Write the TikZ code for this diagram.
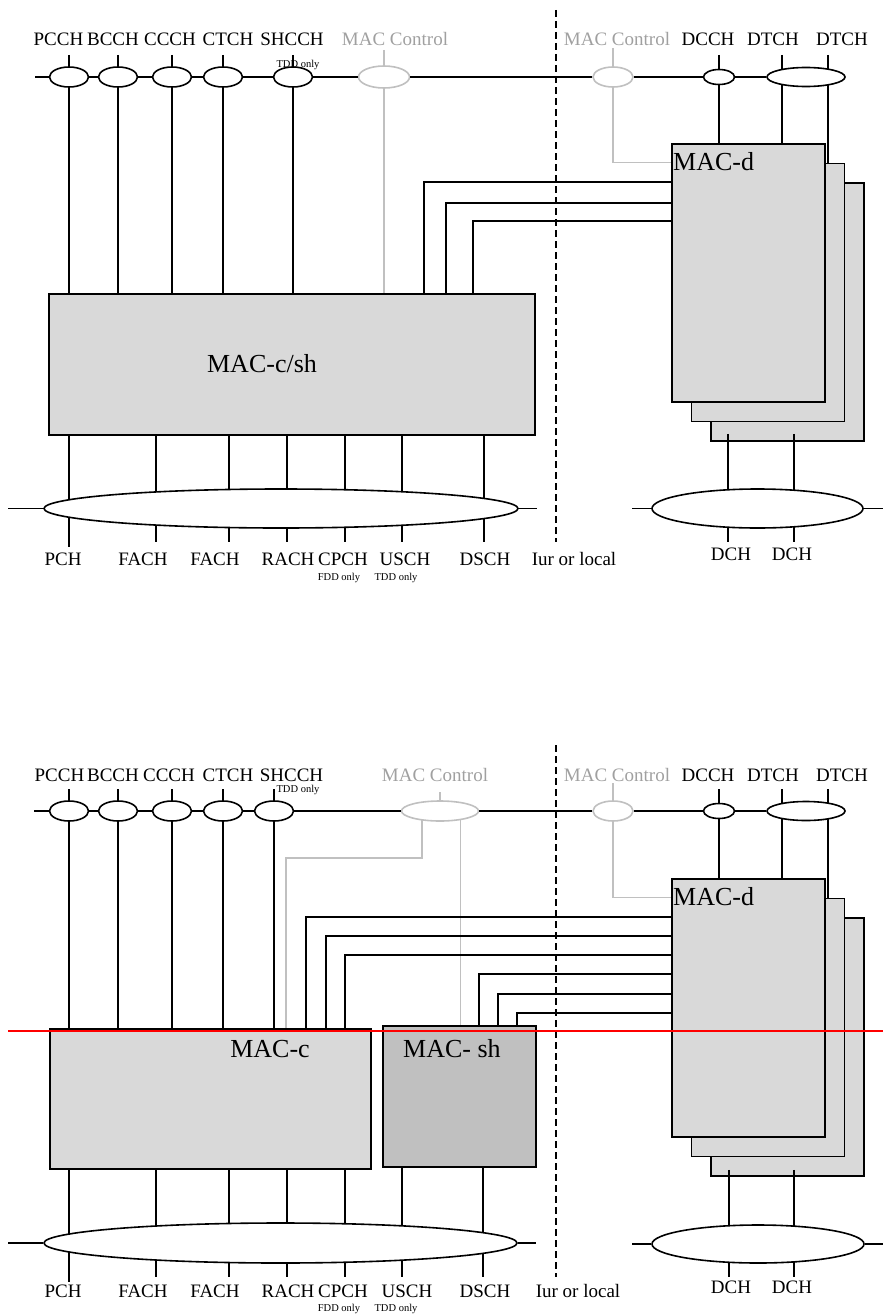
\documentclass[tikz,border=0pt]{standalone}
\usepackage{fontspec}
\setmainfont{Liberation Serif}
\usetikzlibrary{shapes.geometric, backgrounds}
\definecolor{box-gray}{HTML}{D9D9D9}
\definecolor{sh-gray}{HTML}{C0C0C0}
\definecolor{ctrl-gray}{HTML}{C0C0C0}
\definecolor{ctrl-text}{HTML}{A0A0A0}

\begin{document}
\begin{tikzpicture}[x=1pt, y=-1pt,
    chan/.style={draw, ellipse, fill=white, line width=1.6pt, inner sep=0pt,
                 minimum width=39pt, minimum height=20pt},
    ctrl/.style={chan, draw=ctrl-gray},
    macbox/.style={draw, line width=1.7pt, fill=box-gray, inner sep=0pt},
    lbl/.style={anchor=base, inner sep=0pt, font=\fontsize{19}{22}\selectfont},
    tiny/.style={inner sep=0pt, font=\fontsize{10.5}{12}\selectfont},
    big/.style={anchor=base, inner sep=0pt, font=\fontsize{26}{29}\selectfont},
    conn/.style={line width=1.4pt},
    gconn/.style={line width=1.4pt, draw=ctrl-gray},
    iur/.style={line width=1.5pt, dash pattern=on 7pt off 4pt}]
\useasboundingbox (0,0) rectangle (883,1314);

%%% upper picture: MAC-c/sh
\foreach \n/\x/\t in {pcch/58.5/PCCH, bcch/113/BCCH, ccch/170/CCCH, ctch/228/CTCH,
                      shcch/292/SHCCH, dcch/708/DCCH, dtcha/773/DTCH, dtchb/842/DTCH}
  \node[lbl] (l-\n) at (\x,46) {\t};
\node[lbl, text=ctrl-text] (l-ctrl) at (395,46) {MAC Control};
\node[lbl, text=ctrl-text] (l-ctrlr) at (617,46) {MAC Control};
\node[tiny] (l-tdd) at (298,65) {TDD only};

\foreach \n/\x in {pcch/69, bcch/118, ccch/172, ctch/223, shcch/293}
  \node[chan] (e-\n) at (\x,77) {};
\node[ctrl, minimum width=51pt, minimum height=22pt] (e-ctrl) at (384,77) {};
\node[ctrl, minimum width=40pt] (e-ctrlr) at (613,77) {};
\node[chan, minimum width=31pt, minimum height=15pt] (e-dcch) at (719,77) {};
\node[chan, minimum width=78pt, minimum height=19pt] (e-dtch) at (806,77) {};
\coordinate (lch) at (35,77);
\draw[conn] (lch) -- (e-pcch) -- (e-bcch) -- (e-ccch) -- (e-ctch) -- (e-shcch)
  -- (e-ctrl) -- (e-ctrlr) -- (e-dcch) -- (e-dtch);

\node[macbox, minimum width=486pt, minimum height=141pt] (csh) at (292,364.5) {};
\node[big] (t-csh) at (262,372) {MAC-c/sh};

\foreach \n/\d in {c/39, b/19.5, a/0}
  \node[macbox, minimum width=153pt, minimum height=258pt] (macd-\n) at ({748.5+\d},{273+\d}) {};
\node[big, anchor=base west] (t-macd) at (673,170) {MAC-d};

\begin{scope}[on background layer]
  \foreach \n in {pcch, bcch, ccch, ctch, shcch}
    \draw[conn] (e-\n |- 0,55) -- (e-\n |- csh.north);
  \draw[gconn] (e-ctrl |- 0,50) -- (e-ctrl |- csh.north);
  \draw[conn] (e-dcch |- 0,55) -- (e-dcch |- macd-a.north);
  \draw[conn] (782,55) -- (macd-a.north -| 782,0);
  \draw[conn] (828,55) -- (macd-b.north -| 828,0);
  \draw[gconn] (e-ctrlr |- 0,48) |- (macd-a.west |- macd-b.north);
  \foreach \x/\y in {424/182, 446/203, 473/221}
    \draw[conn] (csh.north -| \x,0) |- (macd-a.west |- 0,\y);
  \foreach \x/\e in {69/547, 156/542, 229/542, 287/542, 345/542, 402/542, 484/542}
    \draw[conn] (csh.south -| \x,0) -- (\x,\e);
\end{scope}

\node[chan, minimum width=474pt, minimum height=39pt] (e-trch) at (281,508.5) {};
\draw[conn] (8,508.5) -- (e-trch);
\draw[conn] (e-trch) -- (537,508.5);

\foreach \x in {728, 794}
  \draw[conn] (macd-c.south -| \x,0) ++(0,-8) -- (\x,542);
\node[chan, minimum width=211pt, minimum height=39pt] (e-dch) at (757.5,508.5) {};
\draw[conn] (632,508.5) -- (e-dch);
\draw[conn] (e-dch) -- (883,508.5);

\foreach \n/\x/\t in {pch/63/PCH, facha/143/FACH, fachb/215/FACH, rach/288/RACH,
                      cpch/343/CPCH, usch/405/USCH, dsch/485/DSCH, iur/574/Iur or local}
  \node[lbl] (l-\n) at (\x,565) {\t};
\node[tiny] (l-fdd) at (339,578) {FDD only};
\node[tiny] (l-tddb) at (396,578) {TDD only};
\node[lbl] (l-dcha) at (731,560) {DCH};
\node[lbl] (l-dchb) at (792,560) {DCH};

\draw[iur] (556,10) -- (556,542);

%%% lower picture: MAC-c and MAC-sh
\foreach \n/\x/\t in {pcch/59.5/PCCH, bcch/113/BCCH, ccch/169/CCCH, ctch/228/CTCH,
                      shcch/291.5/SHCCH, dcch/708/DCCH, dtcha/773/DTCH, dtchb/842/DTCH}
  \node[lbl] (m-\n) at (\x,781) {\t};
\node[lbl, text=ctrl-text] (m-ctrl) at (435,781) {MAC Control};
\node[lbl, text=ctrl-text] (m-ctrlr) at (617,781) {MAC Control};
\node[tiny] (m-tdd) at (298,790) {TDD only};

\foreach \n/\x in {pcch/69, bcch/118, ccch/172, ctch/223, shcch/274}
  \node[chan] (f-\n) at (\x,811) {};
\node[ctrl, minimum width=77pt] (f-ctrl) at (440,811) {};
\node[ctrl, minimum width=40pt] (f-ctrlr) at (613,811) {};
\node[chan, minimum width=31pt, minimum height=15pt] (f-dcch) at (719,811) {};
\node[chan, minimum width=78pt, minimum height=19pt] (f-dtch) at (806,811) {};
\coordinate (mch) at (34,811);
\draw[conn] (mch) -- (f-pcch) -- (f-bcch) -- (f-ccch) -- (f-ctch) -- (f-shcch)
  -- (f-ctrl) -- (f-ctrlr) -- (f-dcch) -- (f-dtch);

\node[macbox, minimum width=321pt, minimum height=140pt] (mac-c) at (210.5,1099) {};
\node[macbox, fill=sh-gray, minimum width=153pt, minimum height=141pt] (mac-sh) at (459.5,1096.5) {};
\node[big] (t-macc) at (270,1057) {MAC-c};
\node[big] (t-macsh) at (452,1057) {MAC- sh};

\foreach \n/\d in {c/39, b/19.5, a/0}
  \node[macbox, minimum width=153pt, minimum height=258pt] (macd2-\n) at ({748.5+\d},{1008+\d}) {};
\node[big, anchor=base west] (t-macd2) at (673,905) {MAC-d};

\begin{scope}[on background layer]
  \foreach \n in {pcch, bcch, ccch, ctch, shcch}
    \draw[conn] (f-\n |- 0,789) -- (f-\n |- mac-c.north);
  \draw[gconn] (f-ctrl |- 0,792) -- (f-ctrl.north);
  \draw[gconn] (f-ctrl -| 422,0) -- (422,858) -| (mac-c.north -| 286,0);
  \draw[gconn] (f-ctrl -| 460.5,0) -- (mac-sh.north -| 460.5,0);
  \draw[conn] (f-dcch |- 0,789) -- (f-dcch |- macd2-a.north);
  \draw[conn] (782,789) -- (macd2-a.north -| 782,0);
  \draw[conn] (828,789) -- (macd2-b.north -| 828,0);
  \draw[gconn] (f-ctrlr |- 0,783) |- (macd2-a.west |- macd2-b.north);
  \foreach \x/\y in {306/917, 326/936, 345/955}
    \draw[conn] (mac-c.north -| \x,0) |- (macd2-a.west |- 0,\y);
  \foreach \x/\y in {479/974, 498/994, 517/1013}
    \draw[conn] (mac-sh.north -| \x,0) |- (macd2-a.west |- 0,\y);
  \foreach \x/\e in {69/1282, 156/1277, 229/1277, 287/1277, 345/1277}
    \draw[conn] (mac-c.south -| \x,0) -- (\x,\e);
  \foreach \x in {402, 483}
    \draw[conn] (mac-sh.south -| \x,0) -- (\x,1277);
\end{scope}

\node[chan, minimum width=473pt, minimum height=40pt] (f-trch) at (280.5,1243) {};
\draw[conn] (8,1243) -- (f-trch);
\draw[conn] (f-trch) -- (536,1243);

\foreach \x in {729, 794}
  \draw[conn] (macd2-c.south -| \x,0) ++(0,-7) -- (\x,1277);
\node[chan, minimum width=212pt, minimum height=38pt] (f-dch) at (758,1244) {};
\draw[conn] (632,1244) -- (f-dch);
\draw[conn] (f-dch) -- (883,1244);

\foreach \n/\x/\t in {pch/63/PCH, facha/143/FACH, fachb/215/FACH, rach/288/RACH,
                      cpch/343/CPCH, usch/407/USCH, dsch/485/DSCH, iur/578/Iur or local}
  \node[lbl] (m-\n) at (\x,1297) {\t};
\node[tiny] (m-fdd) at (339,1309) {FDD only};
\node[tiny] (m-tddb) at (396,1309) {TDD only};
\node[lbl] (m-dcha) at (731,1293) {DCH};
\node[lbl] (m-dchb) at (792,1293) {DCH};

\draw[iur] (556,745) -- (556,1277);

% red reference line
\draw[red, line width=1.3pt] (8,1031) -- (883,1031);
\end{tikzpicture}
\end{document}
